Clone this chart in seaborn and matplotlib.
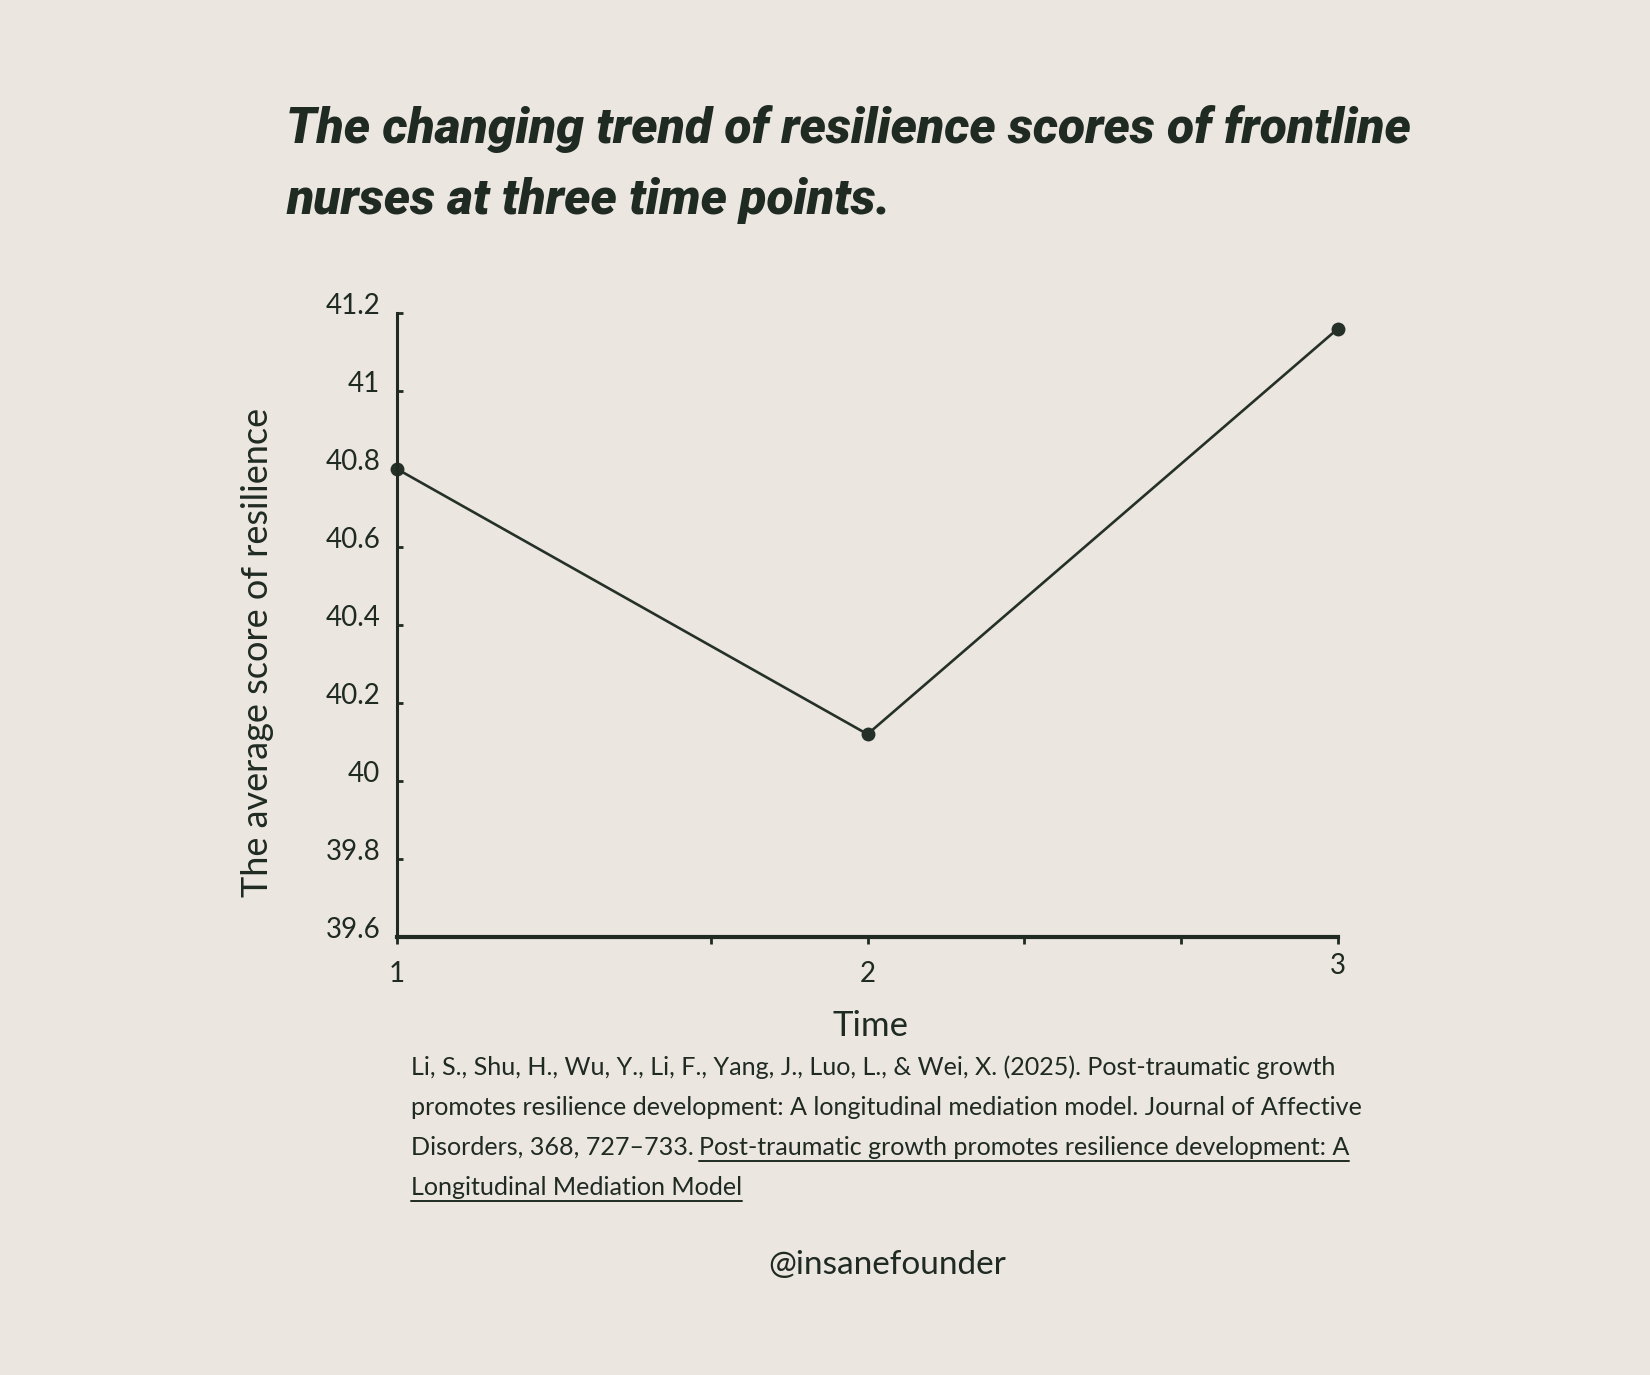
import matplotlib
matplotlib.use("Agg")
import matplotlib.pyplot as plt
import matplotlib.transforms as mtransforms
import seaborn as sns
import pandas as pd

# data
time_points = [1, 2, 3]
resilience = [40.80, 40.12, 41.16]
y_ticks = [39.6, 39.8, 40.0, 40.2, 40.4, 40.6, 40.8, 41.0, 41.2]
y_tick_labels = ["39.6", "39.8", "40", "40.2", "40.4", "40.6", "40.8", "41", "41.2"]
x_ticks = [1, 2, 3]
x_tick_labels = ["1", "2", "3"]
x_minor_ticks = [1.667, 2.333, 2.667]

title_lines = ["The changing trend of resilience scores of frontline",
               "nurses at three time points."]
y_title = "The average score of resilience"
x_title = "Time"
cite_lines = ["Li, S., Shu, H., Wu, Y., Li, F., Yang, J., Luo, L., & Wei, X. (2025). Post-traumatic growth",
              "promotes resilience development: A longitudinal mediation model. Journal of Affective",
              "Disorders, 368, 727\u2013733."]
cite_links = ["Post-traumatic growth promotes resilience development: A",
              "Longitudinal Mediation Model"]
handle = "@insanefounder"

BG = "#ebe7e0"
INK = "#1f2a22"
W, H = 1650, 1375


def fx(px):
    return px / W


def fy(py):
    return 1 - py / H


def main():
    sns.set_theme(style="ticks")
    plt.rcParams["font.family"] = ["Lato", "DejaVu Sans"]
    plt.rcParams["text.color"] = INK
    plt.rcParams["axes.labelcolor"] = INK
    plt.rcParams["xtick.color"] = INK
    plt.rcParams["ytick.color"] = INK

    df = pd.DataFrame({"time": time_points, "score": resilience})

    fig = plt.figure(figsize=(W / 100, H / 100), dpi=100, facecolor=BG)
    ax = fig.add_axes([fx(397), fy(937), fx(1338) - fx(397), fy(313) - fy(937)])
    ax.set_facecolor(BG)

    sns.lineplot(data=df, x="time", y="score", ax=ax, color="#243028",
                 linewidth=1.9, marker="o", markersize=10, markeredgewidth=0,
                 clip_on=False)

    ax.set_xlim(1, 3)
    ax.set_ylim(39.6, 41.2)
    ax.set_xticks(x_ticks)
    ax.set_xticklabels(x_tick_labels)
    ax.set_xticks(x_minor_ticks, minor=True)
    ax.set_yticks(y_ticks)
    ax.set_yticklabels(y_tick_labels)

    for s in ["top", "right"]:
        ax.spines[s].set_visible(False)
    ax.spines["left"].set_linewidth(2.2)
    ax.spines["bottom"].set_linewidth(3.0)
    ax.spines["left"].set_color(INK)
    ax.spines["bottom"].set_color(INK)

    ax.tick_params(axis="y", direction="in", length=4, width=2, pad=12,
                   labelsize=20)
    ax.tick_params(axis="x", which="both", direction="out", length=5, width=2,
                   pad=12, labelsize=20)

    # labels sit a little above their ticks in the reference
    shift = mtransforms.ScaledTranslation(0, 10 / 100, fig.dpi_scale_trans)
    for lab in ax.get_yticklabels():
        lab.set_transform(lab.get_transform() + shift)
    up3 = mtransforms.ScaledTranslation(0, 8 / 100, fig.dpi_scale_trans)
    last = ax.get_xticklabels()[-1]
    last.set_transform(last.get_transform() + up3)

    ax.set_xlabel("")
    ax.set_ylabel("")
    fig.text(fx(258), fy(652), y_title, rotation=90, ha="center", va="center",
             fontsize=26)
    fig.text(fx(871), fy(1026), x_title, ha="center", va="center", fontsize=25)

    # title
    title_font = ["Roboto", "DejaVu Sans"]
    for line, yc in zip(title_lines, [129, 201]):
        fig.text(fx(286), fy(yc), line, ha="left", va="center",
                 fontsize=35.9, fontweight="black", fontstyle="italic",
                 family=title_font)

    # citation
    cite_size = 18.1
    baselines = [1075, 1115, 1155, 1195]
    for line, b in zip(cite_lines, baselines):
        fig.text(fx(411), fy(b), line, ha="left", va="baseline",
                 fontsize=cite_size)

    fig.canvas.draw()
    renderer = fig.canvas.get_renderer()
    third = fig.texts[-1]
    bb = third.get_window_extent(renderer)
    gap = 5
    link1 = fig.text((bb.x1 + gap) / W, fy(baselines[2]), cite_links[0],
                     ha="left", va="baseline", fontsize=cite_size)
    link2 = fig.text(fx(411), fy(baselines[3]), cite_links[1], ha="left",
                     va="baseline", fontsize=cite_size)
    fig.canvas.draw()
    for t, b in [(link1, baselines[2]), (link2, baselines[3])]:
        tb = t.get_window_extent(renderer)
        yy = fy(b + 6)
        fig.add_artist(plt.Line2D([tb.x0 / W, tb.x1 / W], [yy, yy],
                                  transform=fig.transFigure, color=INK,
                                  linewidth=1.4))

    fig.text(fx(887), fy(1265), handle, ha="center", va="center", fontsize=24)

    fig.savefig("out.png", dpi=100, facecolor=BG)


if __name__ == "__main__":
    main()
